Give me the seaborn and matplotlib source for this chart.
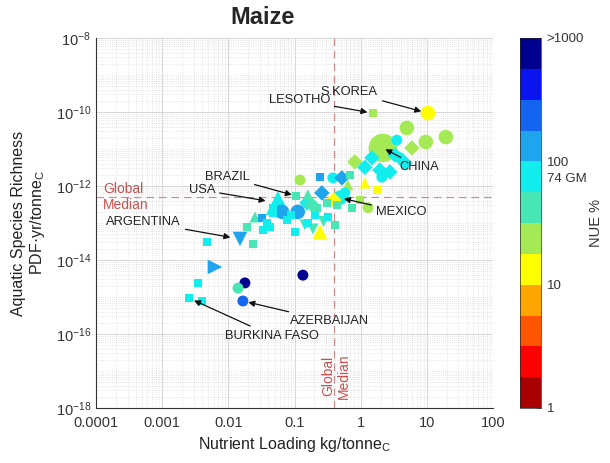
import numpy as np
import pandas as pd
import matplotlib
matplotlib.use("Agg")
import matplotlib.pyplot as plt
import seaborn as sns
from matplotlib.colors import ListedColormap, LogNorm
from matplotlib.ticker import LogLocator, NullFormatter, FixedLocator, FixedFormatter
import matplotlib.cm as cm

# ---------------- data ----------------
nutrient_loading = [0.00254, 0.00399, 0.00348, 0.00628, 0.0178, 0.0140, 0.0166, 0.134,
                    0.00475, 0.0150, 0.0191, 0.0236, 0.0322, 0.0252, 0.0383, 0.0333,
                    0.0425, 0.0472, 0.0561, 0.0646, 0.0767, 0.112, 0.101, 0.159,
                    0.154, 0.159, 0.218, 0.308, 0.259, 0.242, 0.121, 0.242,
                    0.380, 0.520, 0.485, 0.641, 0.736, 1.29, 1.16, 1.76,
                    0.817, 1.16, 1.48, 1.95, 2.09, 2.76, 2.16, 3.52,
                    3.91, 5.93, 4.66, 4.99, 9.66, 19.4, 10.4, 1.53,
                    0.105, 0.183, 0.203, 0.144, 0.190, 0.320, 0.407, 0.437,
                    0.577, 0.394, 0.97, 0.687, 3.29, 0.088, 0.047, 0.275]
species_richness = [9.3e-16, 7.8e-16, 2.4e-15, 6.5e-15, 2.4e-15, 1.74e-15, 7.8e-16, 3.9e-15,
                    3.1e-14, 3.7e-14, 7.8e-14, 2.7e-14, 1.38e-13, 1.45e-13, 1.0e-13, 6.5e-14,
                    7.8e-14, 1.86e-13, 3.5e-13, 2.0e-13, 1.2e-13, 2.0e-13, 5.8e-14, 1.0e-13,
                    3.5e-13, 5.8e-13, 2.6e-13, 3.5e-13, 6.5e-13, 5.8e-14, 1.45e-12, 1.74e-12,
                    1.66e-12, 1.66e-12, 4.8e-13, 1.07e-12, 2.6e-13, 2.6e-13, 1.2e-12, 7.8e-13,
                    4.5e-12, 3.2e-12, 5.8e-12, 2.7e-12, 1.74e-12, 2.4e-12, 1.07e-11, 1.74e-11,
                    5.8e-12, 1.07e-11, 4.2e-12, 3.7e-11, 1.55e-11, 2.1e-11, 9.3e-11, 9.3e-11,
                    5.4e-13, 3.1e-13, 1.66e-13, 8.9e-14, 6.9e-14, 1.45e-13, 8.9e-14, 3.1e-13,
                    6.5e-13, 4.2e-13, 4.2e-13, 2.0e-12, 6.9e-12, 1.6e-13, 2.6e-13, 1.1e-13]
nue_percent = [75, 75, 75, 130, 800, 42, 250, 800,
               75, 130, 42, 42, 130, 42, 75, 75,
               75, 75, 75, 130, 75, 130, 75, 75,
               75, 42, 42, 42, 130, 13, 24, 130,
               75, 130, 75, 24, 42, 24, 13, 13,
               24, 75, 75, 75, 75, 75, 24, 75,
               75, 24, 75, 24, 24, 24, 13, 24,
               42, 42, 75, 42, 42, 75, 42, 42,
               75, 13, 24, 42, 75, 75, 75, 42]
marker_shape = ["square", "square", "square", "tri_right", "circle", "circle", "circle", "circle",
                "square", "tri_down", "square", "square", "square", "tri_up", "square", "square",
                "square", "square", "tri_up", "circle", "square", "circle", "square", "square",
                "diamond", "tri_up", "square", "square", "diamond", "tri_up", "circle", "square",
                "circle", "diamond", "circle", "tri_up", "square", "circle", "tri_up", "square",
                "diamond", "diamond", "diamond", "diamond", "circle", "diamond", "circle", "circle",
                "circle", "diamond", "diamond", "circle", "circle", "circle", "circle", "square",
                "square", "diamond", "square", "tri_down", "tri_down", "square", "square", "square",
                "circle", "diamond", "square", "square", "diamond", "square", "square", "tri_down"]
marker_size = ["S", "S", "S", "L", "M", "M", "M", "M",
               "S", "L", "S", "S", "S", "M", "S", "S",
               "S", "S", "XL", "L", "S", "L", "S", "S",
               "M", "M", "S", "S", "M", "L", "M", "S",
               "M", "M", "L", "M", "S", "M", "M", "S",
               "M", "M", "M", "M", "M", "M", "XXL", "M",
               "M", "M", "M", "L", "L", "L", "L", "S",
               "S", "M", "S", "M", "M", "S", "S", "S",
               "M", "M", "S", "S", "M", "S", "S", "M"]
country = [""] * len(nutrient_loading)
country[0] = "BURKINA FASO"
country[6] = "AZERBAIJAN"
country[9] = "ARGENTINA"
country[18] = "USA"
country[56] = "BRAZIL"
country[34] = "MEXICO"
country[46] = "CHINA"
country[54] = "S.KOREA"
country[55] = "LESOTHO"

global_median_loading = 0.39
global_median_richness = 5.0e-13
cbar_ticks = [1, 10, 74, 100, 1000]
cbar_ticklabels = ["1", "10", "74 GM", "100", ">1000"]
x_ticks = [1e-4, 1e-3, 1e-2, 1e-1, 1, 10, 100]
x_ticklabels = ["0.0001", "0.001", "0.01", "0.1", "1", "10", "100"]
y_ticks = [1e-18, 1e-16, 1e-14, 1e-12, 1e-10, 1e-8]

# text positions for labels (data coords), alignment, arrow shrink
label_pos = {
    "LESOTHO": (0.343, 2.1e-10, "right", 4),
    "S.KOREA": (1.82, 3.5e-10, "right", 5),
    "CHINA": (3.9, 3.2e-12, "left", 2),
    "MEXICO": (1.70, 2.0e-13, "left", 3),
    "BRAZIL": (0.0212, 1.74e-12, "right", 3),
    "USA": (0.0063, 7.8e-13, "right", 9),
    "ARGENTINA": (0.00192, 1.07e-13, "right", 7),
    "AZERBAIJAN": (0.0853, 2.2e-16, "left", 4),
    "BURKINA FASO": (0.0089, 8.9e-17, "left", 4),
}

df = pd.DataFrame({
    "loading": nutrient_loading,
    "richness": species_richness,
    "nue": nue_percent,
    "shape": marker_shape,
    "size": marker_size,
    "country": country,
})
# draw the biggest marks first so the small ones sit on top
order = {"XXL": 0, "XL": 1, "L": 2, "M": 3, "S": 4}
df = df.assign(_o=df["size"].map(order)).sort_values("_o", kind="stable").drop(columns="_o")

# ---------------- style ----------------
sns.set_style("white")
plt.rcParams["font.family"] = ["Liberation Sans", "DejaVu Sans"]
plt.rcParams["mathtext.fontset"] = "custom"
plt.rcParams["mathtext.rm"] = "Liberation Sans"
plt.rcParams["mathtext.it"] = "Liberation Sans:italic"

colors = ["#a80000", "#ff0000", "#ff5500", "#ffa500", "#ffff00", "#a5ea55",
          "#48e6b4", "#12eeee", "#1ea5ee", "#1464f0", "#0a14f0", "#00008f"]
cmap = ListedColormap(colors)
norm = LogNorm(vmin=1, vmax=1000)

marker_map = {"circle": "o", "square": "s", "diamond": "D", "tri_up": "^",
              "tri_down": "v", "tri_right": ">"}
size_map = {"S": 34, "M": 62, "L": 110, "XL": 300, "XXL": 420}

fig = plt.figure(figsize=(6.1, 4.63), dpi=100)
ax = fig.add_axes([96 / 610, 1 - 408 / 463, 397 / 610, 370 / 463])
ax.set_xscale("log")
ax.set_yscale("log")

sns.scatterplot(data=df, x="loading", y="richness", hue="nue", hue_norm=norm,
                palette=cmap, style="shape", markers=marker_map, size="size",
                sizes=size_map, linewidth=0, legend=False, ax=ax, zorder=3)

ax.set_xlim(1e-4, 100)
ax.set_ylim(1e-18, 1e-8)
ax.xaxis.set_major_locator(FixedLocator(x_ticks))
ax.xaxis.set_major_formatter(FixedFormatter(x_ticklabels))
ax.xaxis.set_minor_locator(LogLocator(base=10, subs=np.arange(2, 10), numticks=100))
ax.xaxis.set_minor_formatter(NullFormatter())
ax.yaxis.set_major_locator(FixedLocator(y_ticks))
ax.yaxis.set_minor_locator(LogLocator(base=10, subs=np.arange(1, 10), numticks=100))
ax.yaxis.set_minor_formatter(NullFormatter())

ax.grid(which="major", color="#d6d6d6", lw=0.7, zorder=0)
ax.grid(which="minor", color="#dcdcdc", lw=0.6, ls=":", zorder=0)
ax.set_axisbelow(True)
for s in ["top", "right"]:
    ax.spines[s].set_visible(False)
for s in ["left", "bottom"]:
    ax.spines[s].set_color("#333333")
    ax.spines[s].set_linewidth(0.8)
ax.tick_params(which="major", direction="in", length=4, width=0.6, labelsize=10.5,
               colors="#333333")
ax.tick_params(which="minor", direction="in", length=2, width=0.5, colors="#333333")
ax.tick_params(axis="x", pad=6)

# global median lines
med_color = "#c8504f"
ax.axvline(global_median_loading, color="#d08a8a", lw=0.9, ls=(0, (6, 4)), zorder=1)
ax.axhline(global_median_richness, color="#d08a8a", lw=0.9, ls=(0, (6, 4)), zorder=1)
ax.text(0.018, global_median_richness, "Global\nMedian", transform=ax.get_yaxis_transform(),
        color=med_color, fontsize=10, ha="left", va="center", linespacing=1.15)
ax.text(global_median_loading * 1.09, 10 ** -17.14, "Global\nMedian", rotation=90,
        color=med_color, fontsize=10, ha="center", va="center", linespacing=1.15)

# annotations
for _, row in df[df["country"] != ""].iterrows():
    tx, ty, ha, shrink = label_pos[row["country"]]
    ax.annotate(row["country"], xy=(row["loading"], row["richness"]), xytext=(tx, ty),
                ha=ha, va="center", fontsize=9.3, color="#222222",
                arrowprops=dict(arrowstyle="-|>", color="#111111", lw=0.9,
                                mutation_scale=9, shrinkA=1, shrinkB=shrink),
                zorder=5)

ax.set_xlabel("Nutrient Loading kg/tonne$_\\mathregular{C}$", fontsize=11.5, color="#222222",
              labelpad=3)
ax.set_ylabel("Aquatic Species Richness\nPDF·yr/tonne$_\\mathregular{C}$", fontsize=11.5,
              color="#222222", labelpad=6)
fig.text(263 / 610, 1 - 18 / 463, "Maize", fontsize=17, fontweight="bold",
         ha="center", va="center")

# colorbar
cax = fig.add_axes([520 / 610, 1 - 408 / 463, 21 / 610, 370 / 463])
cb = fig.colorbar(cm.ScalarMappable(norm=norm, cmap=cmap), cax=cax)
cb.set_ticks(cbar_ticks)
cb.set_ticklabels(cbar_ticklabels)
cb.outline.set_linewidth(0.5)
cb.ax.tick_params(which="major", length=3, width=0.5, labelsize=9.5, direction="in",
                  colors="#333333", pad=4)
cb.ax.tick_params(which="minor", length=1.5, width=0.4, direction="in")
cb.set_label("NUE %", fontsize=10.5, color="#333333", labelpad=2)

fig.savefig("out.png", dpi=100)
